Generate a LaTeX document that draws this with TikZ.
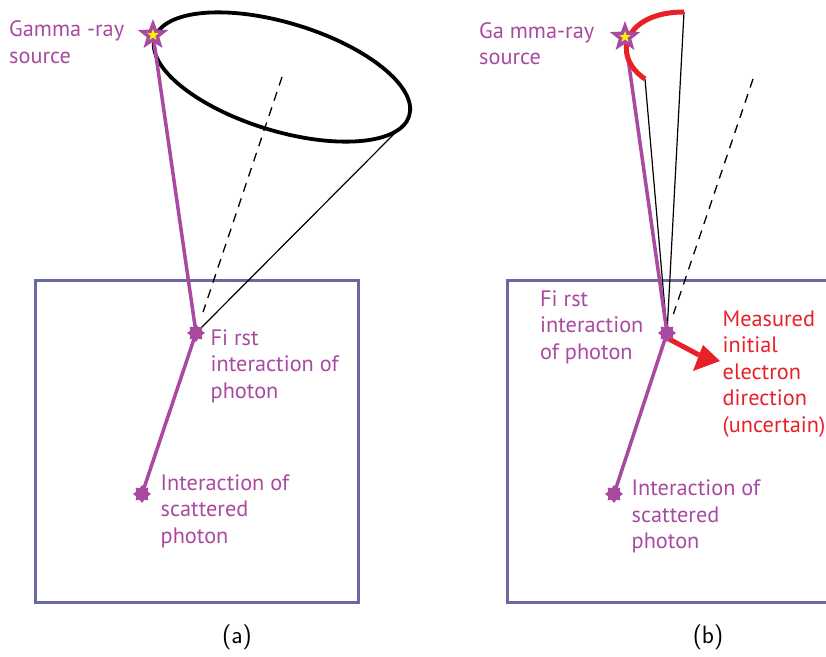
\documentclass[tikz,border=0pt]{standalone}
\usepackage{fontspec}
\setmainfont{PT Sans}
\usetikzlibrary{shapes.geometric,arrows.meta}
\definecolor{pur}{RGB}{168,74,160}
\definecolor{boxc}{RGB}{104,104,162}
\definecolor{redc}{RGB}{232,32,40}
\definecolor{yel}{RGB}{255,240,0}
\begin{document}
\begin{tikzpicture}[x=1pt,y=-1pt,
  lbl/.style={anchor=base west, align=left, inner sep=0pt, font=\fontsize{22.3}{26.5}\selectfont, text=pur},
  redlbl/.style={lbl, text=redc},
  caplbl/.style={anchor=center, inner sep=0pt, font=\fontsize{25}{30}\sffamily},
  srcstar/.style={star, star points=5, star point ratio=2.4, minimum size=32pt, inner sep=0pt, fill=pur},
  yelstar/.style={star, star points=5, star point ratio=2.4, minimum size=12pt, inner sep=0pt, fill=yel},
  burst/.style={star, star points=8, star point ratio=1.45, minimum size=18pt, inner sep=0pt, fill=pur},
  detbox/.style={draw=boxc, line width=3pt},
  ray/.style={draw=pur, line width=3.5pt},
  thin/.style={draw=black, line width=1.2pt},
  axisline/.style={draw=black, line width=1.3pt, dash pattern=on 9pt off 7pt},
  cone/.style={draw=black, line width=3.8pt},
  redarc/.style={draw=redc, line width=5pt}]
\useasboundingbox (0,0) rectangle (826,656);

% ---------------- panel (a) ----------------
\coordinate (srcA) at (153,35);
\coordinate (i1A) at (196,333);
\coordinate (i2A) at (142,494);
\coordinate (cA) at (282,77);
\coordinate (tA) at (396,132);

\draw[detbox] (35,280) rectangle (358,602);
\draw[cone, rotate around={-17:(cA)}] (cA) ellipse (133pt and 54pt);
\draw[axisline, shorten >=22pt] (cA) -- (i1A);
\draw[thin, -{Straight Barb[length=4pt,width=6pt]}] (tA) -- (i1A);
\draw[ray] (srcA) -- (i1A) -- (i2A);

\node[srcstar] (sa) at (srcA) {};
\node[yelstar] (ya) at (srcA) {};
\node[burst] (b1a) at (i1A) {};
\node[burst] (b2a) at (i2A) {};

% base anchor of a multi-line node = baseline of its last line
\node[lbl] (la1) at (9,63) {Gamma -ray\\source};
\node[lbl] (la2) at (210.5,398) {Fi rst\\interaction of\\photon};
\node[lbl] (la3) at (160.5,543) {Interaction of\\scattered\\photon};
\node[caplbl] (capa) at (237,637) {(a)};

% ---------------- panel (b) ----------------
\coordinate (srcB) at (625,37);
\coordinate (i1B) at (667,333);
\coordinate (i2B) at (614,494);
\coordinate (arcT) at (684,12);
\coordinate (arcB) at (645,79);
\coordinate (axB) at (753,79);

\draw[boxc, line width=3pt] (830,280) -- (507,280) -- (507,602) -- (830,602);
\draw[thin] (arcT) -- (i1B);
\draw[thin] (arcB) -- (i1B);
\draw[axisline, shorten >=20pt] (axB) -- (i1B);
\draw[ray] (srcB) -- (i1B) -- (i2B);
\draw[redarc] (arcT) .. controls (625,12) and (610,55) .. (arcB);

\coordinate (arrS) at (669,339);
\coordinate (arrN) at (699,355);
\draw[redc, line width=5pt] (arrS) -- (arrN);
\fill[redc] (arrN) -- (703,345) -- (720,361) -- (693,371) -- cycle;

\node[srcstar] (sb) at (srcB) {};
\node[yelstar] (yb) at (srcB) {};
\node[burst] (b1b) at (i1B) {};
\node[burst] (b2b) at (i2B) {};

\node[lbl] (lb1) at (479,64.5) {Ga mma-ray\\source};
\node[lbl] (lb2) at (540,359) {Fi rst\\interaction\\of photon};
\node[redlbl] (lb3) at (722.5,432) {Measured\\initial\\electron\\direction\\(uncertain)};
\node[lbl] (lb4) at (631.5,548.5) {Interaction of\\scattered\\photon};
\node[caplbl] (capb) at (708,637) {(b)};
\end{tikzpicture}
\end{document}
